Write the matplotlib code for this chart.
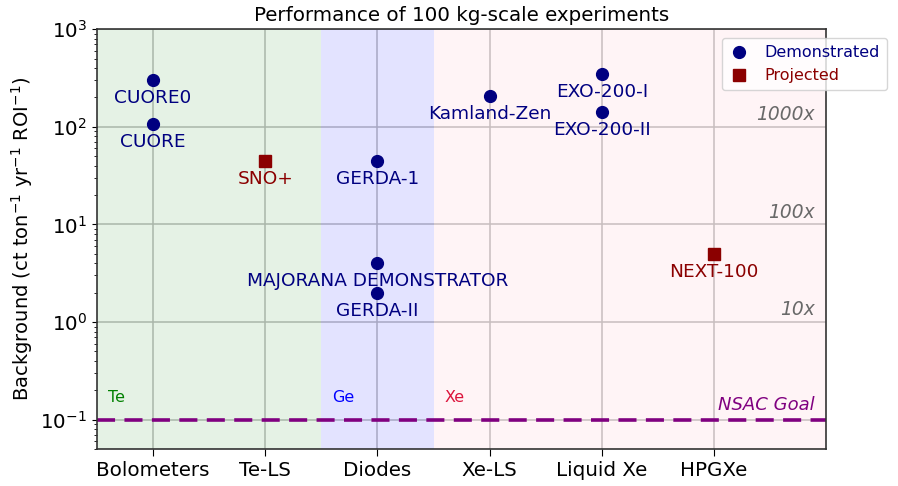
import matplotlib
matplotlib.use("Agg")
import matplotlib.pyplot as plt
import numpy as np

categories = ["Bolometers", "Te-LS", "Diodes", "Xe-LS", "Liquid Xe", "HPGXe"]

# demonstrated experiments: name, category index, background
demo_names = ["CUORE0", "CUORE", "GERDA-1", "MAJORANA DEMONSTRATOR", "GERDA-II",
              "Kamland-Zen", "EXO-200-I", "EXO-200-II"]
demo_x = [0, 0, 2, 2, 2, 3, 4, 4]
demo_bg = [300, 107, 45, 4.0, 2.0, 206, 350, 141]

# projected experiments
proj_names = ["SNO+", "NEXT-100"]
proj_x = [1, 5]
proj_bg = [45, 5.0]

nsac_goal = 0.1
factor_labels = ["1000x", "100x", "10x"]
factor_levels = [100, 10, 1]

isotopes = ["Te", "Ge", "Xe"]
iso_colors = ["green", "blue", "crimson"]
iso_spans = [(-0.5, 1.5), (1.5, 2.5), (2.5, 6.0)]
span_colors = ["green", "blue", "pink"]
span_alpha = [0.1, 0.11, 0.17]

fig = plt.figure(figsize=(8.98, 4.86), dpi=100)
ax = fig.add_axes([0.108, 0.076, 0.812, 0.864])

for (x0, x1), c, a in zip(iso_spans, span_colors, span_alpha):
    ax.axvspan(x0, x1, color=c, alpha=a, lw=0)

ax.grid(True, color="#bdbdbd", lw=1.1)
ax.set_axisbelow(True)
for s in ax.spines.values():
    s.set_color("#333333")
    s.set_linewidth(1.2)

ax.plot(demo_x, demo_bg, "o", color="navy", ms=8.5, ls="none", label="Demonstrated", zorder=3)
ax.plot(proj_x, proj_bg, "s", color="darkred", ms=8.5, ls="none", label="Projected", zorder=3)

for n, x, y in zip(demo_names, demo_x, demo_bg):
    ax.annotate(n, (x, y), xytext=(0, -13), textcoords="offset points",
                ha="center", va="center", color="navy", fontsize=13.3)
for n, x, y in zip(proj_names, proj_x, proj_bg):
    ax.annotate(n, (x, y), xytext=(0, -13), textcoords="offset points",
                ha="center", va="center", color="darkred", fontsize=13.3)

ax.axhline(nsac_goal, color="purple", ls="--", lw=2.6, dashes=(5, 2.6), zorder=2)
ax.text(5.9, 0.115, "NSAC Goal", color="purple", style="italic", fontsize=13,
        ha="right", va="bottom")

for lab, lev in zip(factor_labels, factor_levels):
    ax.text(5.9, lev * 1.07, lab, color="dimgray", style="italic", fontsize=13.4,
            ha="right", va="bottom")

for (x0, x1), name, c in zip(iso_spans, isotopes, iso_colors):
    ax.text(x0 + 0.1, 0.168, name, color=c, fontsize=11.5, ha="left", va="center")

ax.set_yscale("log")
ax.set_ylim(0.05, 1000)
ax.set_xlim(-0.5, 6)
ax.set_xticks(range(len(categories)))
ax.set_xticklabels(categories)
ax.tick_params(labelsize=14.3)
ax.tick_params(axis="x", length=5)
ax.set_ylabel("Background (ct ton$^{-1}$ yr$^{-1}$ ROI$^{-1}$)", fontsize=14)
ax.set_title("Performance of 100 kg-scale experiments", fontsize=14.3)

leg = ax.legend(loc="upper left", bbox_to_anchor=(0.857, 0.979), fontsize=11.5,
                numpoints=1, framealpha=0.8, handlelength=1.3, handletextpad=0.9,
                borderaxespad=0, borderpad=0.45)
for t, c in zip(leg.get_texts(), ["navy", "darkred"]):
    t.set_color(c)

fig.savefig("out.png", dpi=100)
